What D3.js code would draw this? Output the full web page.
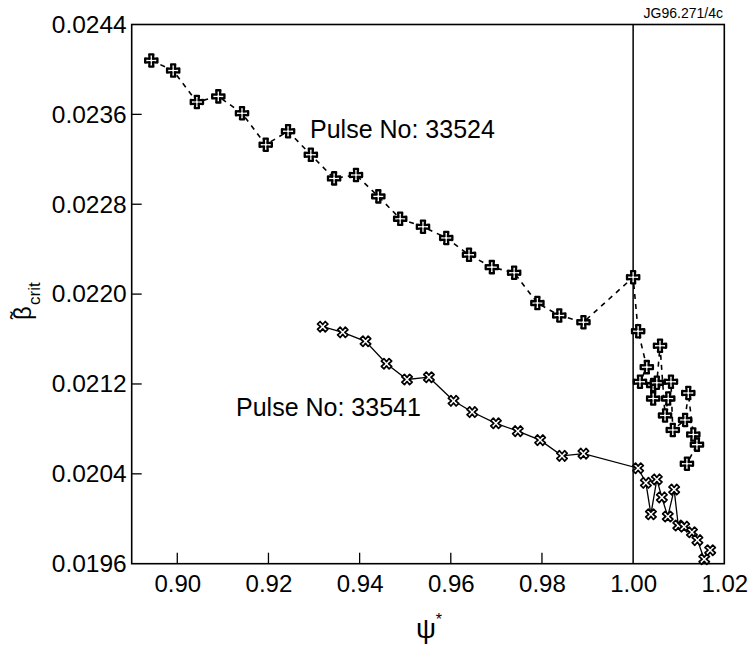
<!DOCTYPE html>
<html><head><meta charset="utf-8">
<script src="https://cdn.jsdelivr.net/npm/d3@7"></script>
<style>body{margin:0;background:#fff}svg{display:block}text{font-family:"Liberation Sans",Arial,sans-serif;fill:#000}</style>
</head><body>
<script>
// Pulse 33524 (dashed, "+" markers)
const psiA = [0.8943,0.8991,0.9043,0.9090,0.9142,0.9194,0.9243,0.9293,0.9344,0.9392,0.9441,0.9489,0.9539,0.9590,0.9640,0.9690,0.9739,0.9790,0.9838,0.9891,1.0000,
  1.0011,1.0030,1.0015,1.0044,1.0044,1.0052,1.0059,1.0070,1.0077,1.0083,1.0087,1.0114,1.0121,1.0132,1.0140,1.0118];
const betaA = [0.02408,0.02399,0.02371,0.02376,0.02361,0.02333,0.02345,0.02324,0.02303,0.02306,0.02287,0.02267,0.02260,0.02250,0.02235,0.02224,0.02219,0.02192,0.02181,0.02175,0.02215,
  0.02167,0.02135,0.02122,0.02119,0.02107,0.02121,0.02154,0.02092,0.02107,0.02122,0.02079,0.02088,0.02112,0.02075,0.02066,0.02049];
// Pulse 33541 (solid, "x" markers)
const psiB = [0.9319,0.9363,0.9413,0.9459,0.9504,0.9552,0.9606,0.9647,0.9699,0.9747,0.9796,0.9844,0.9891,1.0011,
  1.0028,1.0039,1.0052,1.0063,1.0076,1.0090,1.0099,1.0112,1.0129,1.0141,1.0156,1.0169];
const betaB = [0.02171,0.02166,0.02158,0.02138,0.02124,0.02126,0.02105,0.02095,0.02085,0.02078,0.02070,0.02056,0.02058,0.02045,
  0.02032,0.02004,0.02035,0.02019,0.02002,0.02026,0.01994,0.01993,0.01988,0.01981,0.01964,0.01972];
const xTicks = [0.90,0.92,0.94,0.96,0.98,1.00,1.02];
const yTicks = [0.0196,0.0204,0.0212,0.0220,0.0228,0.0236,0.0244];
const labelA = "Pulse No: 33524";
const labelB = "Pulse No: 33541";

const W=753,H=646;
const L=131.7,R=724.3,T=24.5,B=563.7;
const svg=d3.select("body").append("svg").attr("width",W).attr("height",H);
const x=d3.scaleLinear().domain([0.89,1.02]).range([L,R]);
const y=d3.scaleLinear().domain([0.0196,0.0244]).range([B,T]);

svg.append("rect").attr("x",L).attr("y",T).attr("width",R-L).attr("height",B-T)
  .attr("fill","none").attr("stroke","#000").attr("stroke-width",1.6);

const gx=svg.append("g").attr("transform",`translate(0,${B})`)
  .call(d3.axisBottom(x).tickValues(xTicks).tickFormat(d3.format(".2f")).tickSize(0).tickPadding(11));
gx.select(".domain").remove();
gx.selectAll("text").attr("font-size",24).attr("font-family","Liberation Sans, Arial, sans-serif");
svg.append("g").selectAll("line").data(xTicks.filter(d=>d<1.0)).join("line")
  .attr("x1",d=>x(d)).attr("x2",d=>x(d)).attr("y1",B).attr("y2",B-11)
  .attr("stroke","#000").attr("stroke-width",1.3);

const gy=svg.append("g").attr("transform",`translate(${L},0)`)
  .call(d3.axisLeft(y).tickValues(yTicks).tickFormat(d3.format(".4f")).tickSize(0).tickPadding(5));
gy.select(".domain").remove();
gy.selectAll("text").attr("font-size",24.5).attr("font-family","Liberation Sans, Arial, sans-serif");
svg.append("g").selectAll("line").data(yTicks.slice(1,-1)).join("line")
  .attr("x1",L).attr("x2",L+10).attr("y1",d=>y(d)).attr("y2",d=>y(d))
  .attr("stroke","#000").attr("stroke-width",1.3);

svg.append("line").attr("x1",x(1.0)).attr("x2",x(1.0)).attr("y1",T).attr("y2",B)
  .attr("stroke","#000").attr("stroke-width",1.5);

const dataA=psiA.map((p,i)=>[p,betaA[i]]);
const dataB=psiB.map((p,i)=>[p,betaB[i]]);
const line=d3.line().x(d=>x(d[0])).y(d=>y(d[1]));

svg.append("path").attr("d",line(dataA)).attr("fill","none").attr("stroke","#000")
  .attr("stroke-width",1.6).attr("stroke-dasharray","5,5");
svg.append("path").attr("d",line(dataB)).attr("fill","none").attr("stroke","#000")
  .attr("stroke-width",1.3);

const cross={draw(ctx,size){const r=Math.sqrt(size)/2,w=r*0.34,c=w*0.8;
  ctx.moveTo(-w,-r);ctx.lineTo(w,-r);ctx.lineTo(c,-c);ctx.lineTo(r,-w);ctx.lineTo(r,w);ctx.lineTo(c,c);
  ctx.lineTo(w,r);ctx.lineTo(-w,r);ctx.lineTo(-c,c);ctx.lineTo(-r,w);ctx.lineTo(-r,-w);ctx.lineTo(-c,-c);ctx.closePath();}};
const symA=d3.symbol().type(cross).size(150);
const symB=d3.symbol().type(cross).size(120);

svg.append("g").selectAll("path").data(dataA).join("path")
  .attr("d",symA).attr("transform",d=>`translate(${x(d[0])},${y(d[1])})`)
  .attr("fill","#fff").attr("stroke","#000").attr("stroke-width",2.3).attr("stroke-linejoin","round");
svg.append("g").selectAll("path").data(dataB).join("path")
  .attr("d",symB).attr("transform",d=>`translate(${x(d[0])},${y(d[1])}) rotate(45)`)
  .attr("fill","#fff").attr("stroke","#000").attr("stroke-width",1.7).attr("stroke-linejoin","round");

svg.append("text").attr("x",310).attr("y",138).attr("font-size",25).text(labelA);
svg.append("text").attr("x",236).attr("y",416).attr("font-size",25).text(labelB);
svg.append("text").attr("x",723).attr("y",18).attr("text-anchor","end").attr("font-size",14).text("JG96.271/4c");

const yg=svg.append("g").attr("transform","translate(31,320) rotate(-90)");
yg.append("text").attr("x",0).attr("y",0).attr("font-size",24).text("\u03B2");
yg.append("text").attr("x",1).attr("y",-5).attr("font-size",22).text("\u02DC");
yg.append("text").attr("x",15).attr("y",9).attr("font-size",17).text("crit");

const xl=svg.append("text").attr("x",429).attr("y",638).attr("text-anchor","middle").attr("font-size",28);
xl.append("tspan").text("\u03C8");
xl.append("tspan").attr("font-size",16).attr("dy",-13).text("*");
</script>
</body></html>
